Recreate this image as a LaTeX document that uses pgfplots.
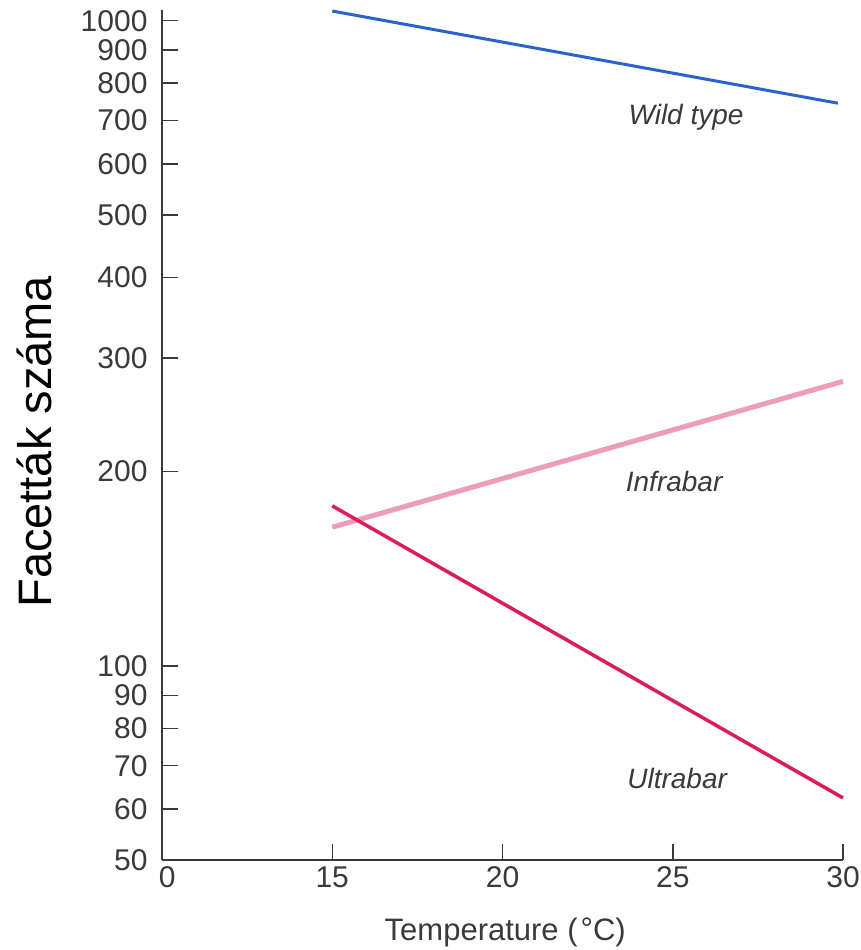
\documentclass[border=0pt]{standalone}
\usepackage{pgfplots}
\pgfplotsset{compat=1.18}
\usepackage{fontspec}
\setmainfont{Liberation Sans}
\definecolor{wildblue}{HTML}{2B62CC}
\definecolor{infrapink}{HTML}{EC9DBB}
\definecolor{ultrared}{HTML}{DC1A5E}
\definecolor{axisgray}{HTML}{3A3A3A}
\begin{document}
\begin{tikzpicture}
\path[use as bounding box] (0pt,0pt) rectangle (861pt,950pt);
\begin{axis}[
  at={(162pt,90pt)}, anchor=south west,
  scale only axis, width=681pt, height=850pt,
  xmin=10, xmax=30,
  ymode=log, ymin=50, ymax=1039,
  axis x line*=bottom, axis y line*=left,
  axis line style={-, line width=1.5pt, axisgray},
  tick align=inside,
  major tick length=16pt,
  tick style={line width=1.5pt, axisgray},
  minor tick num=0,
  xtick={15,20,25,30},
  xticklabels={15,20,25,30},
  extra x ticks={10.15},
  extra x tick labels={0},
  extra x tick style={major tick length=0pt},
  ytick={50,60,70,80,90,100,200,300,400,500,600,700,800,900,1000},
  yticklabels={50,60,70,80,90,100,200,300,400,500,600,700,800,900,1000},
  log ticks with fixed point,
  yminorticks=false,
  ticklabel style={font=\fontsize{30}{36}\selectfont, text=axisgray},
  yticklabel style={xshift=-11pt},
  xticklabel style={yshift=-3pt},
  /pgf/number format/assume math mode=true,
  xlabel={Temperature (\kern3pt\raisebox{1pt}{°}C)},
  xlabel style={font=\fontsize{31}{37}\selectfont, text=axisgray, at={(axis description cs:0.504,-0.0847)}, anchor=center},
  ylabel={Facetták száma},
  ylabel style={font=\fontsize{47}{56}\selectfont, at={(axis description cs:-0.188,0.492)}, anchor=center},
  clip=false,
]
\addplot[wildblue, line width=3pt] coordinates {(15,1035) (29.85,745)};
\addplot[infrapink, line width=5pt] coordinates {(15,164) (30,276)};
\addplot[ultrared, line width=3.5pt] coordinates {(15,177) (30,62.4)};
\node[font=\fontsize{28}{34}\selectfont\itshape, text=axisgray] at (axis cs:25.39,709) {Wild type};
\node[font=\fontsize{28}{34}\selectfont\itshape, text=axisgray] at (axis cs:25.04,193) {Infrabar};
\node[font=\fontsize{28}{34}\selectfont\itshape, text=axisgray] at (axis cs:25.13,66.8) {Ultrabar};
\end{axis}
\end{tikzpicture}
\end{document}
